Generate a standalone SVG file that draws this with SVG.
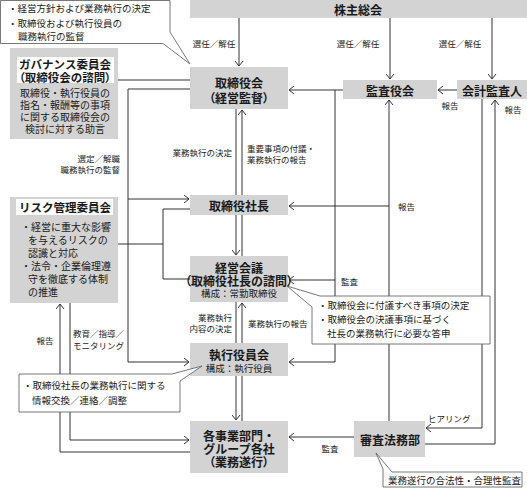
<svg xmlns="http://www.w3.org/2000/svg" width="527" height="488" viewBox="0 0 527 488">
<style>
text{font-family:"Noto Sans CJK JP","Noto Sans",sans-serif;fill:#1a1a1a;dominant-baseline:central}
.p{font-feature-settings:"palt"}
.box{fill:#d3d3d3}
.inner{fill:#ffffff}
.t{font-size:12px;font-weight:700;text-anchor:middle}
.s{font-size:9.5px;text-anchor:middle}
.b{font-size:10px}
.l{font-size:8.5px}
.c{font-size:9.5px}
.m{text-anchor:middle}
.e{text-anchor:end}
.ln{fill:none;stroke:#333;stroke-width:1}
.co{fill:#fff;stroke:#555;stroke-width:0.8}
</style>
<defs>
<marker id="a" viewBox="0 0 6 9" refX="5.5" refY="4.5" markerWidth="6" markerHeight="9" markerUnits="userSpaceOnUse" orient="auto">
<path d="M0.5,0.5 L5.5,4.5 L0.5,8.5" fill="none" stroke="#333" stroke-width="1"/>
</marker>
</defs>

<g id="connectors">
<path class="ln" d="M239,18 V66" marker-end="url(#a)"/>
<path class="ln" d="M390,18 V79" marker-end="url(#a)"/>
<path class="ln" d="M492,18 V79" marker-end="url(#a)"/>
<path class="ln" d="M457,90 H438" marker-end="url(#a)"/>
<path class="ln" d="M343,90 H289" marker-end="url(#a)"/>
<path class="ln" d="M335,90 V362 H289" marker-end="url(#a)"/>
<path class="ln" d="M335,280 H289" marker-end="url(#a)"/>
<path class="ln" d="M389,421 V100" marker-end="url(#a)"/>
<path class="ln" d="M389,206 H289" marker-end="url(#a)"/>
<path class="ln" d="M482,99 V428 H426" marker-end="url(#a)"/>
<path class="ln" d="M425,444 H495 V100" marker-end="url(#a)"/>
<path class="ln" d="M354,437 H289" marker-end="url(#a)"/>
<path class="ln" d="M236,109 V195"/>
<path class="ln" d="M242,195 V110" marker-end="url(#a)"/>
<path class="ln" d="M236,215 V255" marker-end="url(#a)"/>
<path class="ln" d="M242,215 V256"/>
<path class="ln" d="M236,302 V343"/>
<path class="ln" d="M242,343 V303" marker-end="url(#a)"/>
<path class="ln" d="M236,376 V420" marker-end="url(#a)"/>
<path class="ln" d="M242,376 V421"/>
<path class="ln" d="M118,80 H190"/>
<path class="ln" d="M190,89 H128 V362 H189" marker-end="url(#a)"/>
<path class="ln" d="M128,199 H189" marker-end="url(#a)"/>
<path class="ln" d="M118,244 H163"/>
<path class="ln" d="M190,209 H163 V279 H190"/>
<path class="ln" d="M190,452 H60 V304" marker-end="url(#a)"/>
<path class="ln" d="M70,303 V440 H189" marker-end="url(#a)"/>
<text class="l m" x="214" y="43">選任／解任</text>
<text class="l m" x="358" y="43">選任／解任</text>
<text class="l m" x="460" y="43">選任／解任</text>
<text class="l m" x="450" y="105">報告</text>
<text class="l m" x="513" y="109">報告</text>
<text class="l e" x="232" y="152">業務執行の決定</text>
<text class="l" x="247" y="148">重要事項の付議・</text>
<text class="l" x="247" y="159">業務執行の報告</text>
<text class="l e" x="120" y="158">選定／解職</text>
<text class="l e" x="120" y="169">職務執行の監督</text>
<text class="l" x="398" y="206">報告</text>
<text class="l" x="341" y="281">監査</text>
<text class="l e" x="232" y="317">業務執行</text>
<text class="l e" x="232" y="328">内容の決定</text>
<text class="l" x="248" y="323">業務執行の報告</text>
<text class="l m" x="45" y="340">報告</text>
<text class="l" x="73" y="333">教育／指導／</text>
<text class="l" x="73" y="345">モニタリング</text>
<text class="l" x="428" y="418">ヒアリング</text>
<text class="l m" x="330" y="448">監査</text>
</g>

<g id="shareholders">
<rect class="box" x="190" y="0" width="337" height="18"/>
<text class="t" x="358" y="9">株主総会</text>
</g>
<g id="board">
<rect class="box" x="190" y="67" width="98" height="42"/>
<text class="t" x="239" y="82">取締役会</text>
<text class="t p" x="239" y="97">（経営監督）</text>
</g>
<g id="auditboard">
<rect class="box" x="343" y="80" width="94" height="19"/>
<text class="t" x="390" y="90">監査役会</text>
</g>
<g id="accountant">
<rect class="box" x="457" y="80" width="70" height="19"/>
<text class="t" x="492" y="90">会計監査人</text>
</g>
<g id="president">
<rect class="box" x="190" y="195" width="98" height="20"/>
<text class="t" x="239" y="205">取締役社長</text>
</g>
<g id="mgmtmeeting">
<rect class="box" x="190" y="256" width="98" height="46"/>
<text class="t" x="239" y="267">経営会議</text>
<text class="t p" x="239" y="280">（取締役社長の諮問）</text>
<text class="s" x="239" y="293">構成：常勤取締役</text>
</g>
<g id="execofficers">
<rect class="box" x="190" y="343" width="98" height="33"/>
<text class="t" x="239" y="354">執行役員会</text>
<text class="s" x="239" y="368">構成：執行役員</text>
</g>
<g id="divisions">
<rect class="box" x="190" y="421" width="98" height="52"/>
<text class="t" x="239" y="435">各事業部門・</text>
<text class="t" x="239" y="448">グループ各社</text>
<text class="t p" x="239" y="461">（業務遂行）</text>
</g>
<g id="legal">
<rect class="box" x="354" y="421" width="71" height="36"/>
<text class="t" x="390" y="439">審査法務部</text>
</g>
<g id="governance">
<rect class="box" x="10" y="48" width="108" height="91"/>
<rect class="inner" x="17" y="57" width="97" height="26"/>
<text class="t" x="65" y="64" style="font-size:11.5px">ガバナンス委員会</text>
<text class="t p" x="65" y="77" style="font-size:11.5px">（取締役会の諮問）</text>
<text class="b m" x="65" y="92">取締役・執行役員の</text>
<text class="b m" x="65" y="104">指名・報酬等の事項</text>
<text class="b m" x="65" y="116">に関する取締役会の</text>
<text class="b m" x="65" y="128">検討に対する助言</text>
</g>
<g id="risk">
<rect class="box" x="10" y="197" width="108" height="106"/>
<rect class="inner" x="16" y="199" width="97" height="16"/>
<text class="t" x="65" y="207" style="font-size:11.5px">リスク管理委員会</text>
<text class="b" x="21" y="226">・経営に重大な影響</text>
<text class="b" x="28" y="239">を与えるリスクの</text>
<text class="b" x="28" y="252">認識と対応</text>
<text class="b" x="21" y="265">・法令・企業倫理遵</text>
<text class="b" x="28" y="278">守を徹底する体制</text>
<text class="b" x="28" y="291">の推進</text>
</g>
<g id="callout-board">
<path class="co" d="M0.5,0.5 H170 V32 L190,64 L163,43.5 H0.5 Z"/>
<text class="c" x="8" y="8">・経営方針および業務執行の決定</text>
<text class="c" x="8" y="23">・取締役および執行役員の</text>
<text class="c" x="18" y="36">職務執行の監督</text>
</g>
<g id="callout-mgmt">
<path class="co" d="M287,286 L320,296 H490 V344 H312 V307 Z"/>
<text class="c" x="318" y="305">・取締役会に付議すべき事項の決定</text>
<text class="c" x="318" y="319">・取締役会の決議事項に基づく</text>
<text class="c" x="327" y="333">社長の業務執行に必要な答申</text>
</g>
<g id="callout-exec">
<path class="co" d="M19,374 H172 L202,366 L180,381 V412 H19 Z"/>
<text class="c" x="23" y="385">・取締役社長の業務執行に関する</text>
<text class="c" x="32" y="400">情報交換／連絡／調整</text>
</g>
<g id="callout-legal">
<path class="co" d="M376,453 L392,472 H522 V487 H383 V469 Z"/>
<text class="c" x="388" y="480">業務遂行の合法性・合理性監査</text>
</g>
</svg>
